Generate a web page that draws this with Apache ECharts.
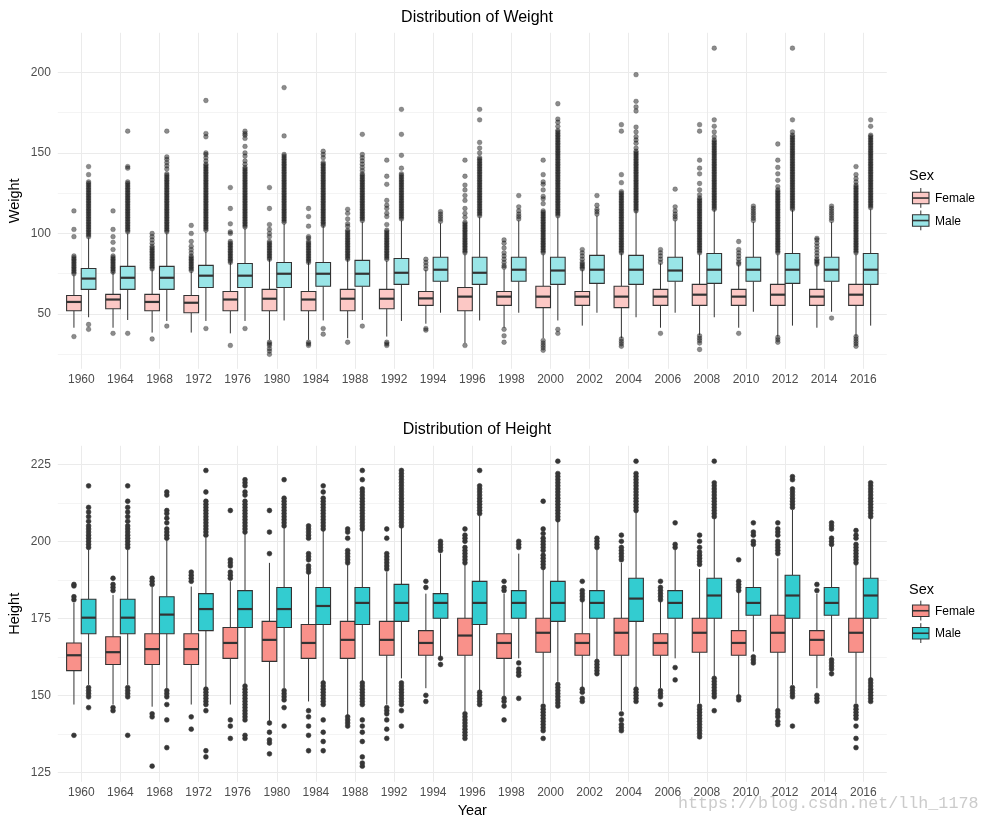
<!DOCTYPE html>
<html><head><meta charset="utf-8">
<script src="https://cdn.jsdelivr.net/npm/echarts@6/dist/echarts.min.js"></script>
<style>html,body{margin:0;padding:0;background:#fff}#c{width:990px;height:825px}</style>
</head><body><div id="c"></div>
<script>
const years = ['1960','1964','1968','1972','1976','1980','1984','1988','1992','1994','1996','1998','2000','2002','2004','2006','2008','2010','2012','2014','2016'];
const sexes = ['Female','Male'];
const weightTicks = [50,100,150,200];
const heightTicks = [125,150,175,200,225];

// [lower whisker, Q1, median, Q3, upper whisker]
const weightFemaleBox = [
 [41.5,52,57.5,61.5,74],[41.5,53.3,59,62.2,76],[38.5,52,57.5,62.2,77.3],[38.5,50.8,57,61.5,76.3],
 [38,52,59,64,82],[34,52,59.5,65.3,84],[34,52,59,64,82],[35,52,59.5,65.3,84],[36,53.3,59.5,65.3,83],
 [44,55.4,59.7,64,77.3],[32,52,60.8,66.5,87],[41.5,55.4,60.8,64,77.7],[35,54,60.8,67.2,87],
 [42.8,55.4,60.8,64,77.3],[35,54,60.8,67.2,87.6],[41.5,55.4,60.8,65.3,81.4],[37,55.4,62,68.4,87],
 [41.5,55.4,60.8,65.3,80.4],[36,55.4,62,68.4,87],[41.5,55.4,60.8,65.3,80.4],[36.3,55.4,62,68.4,87]
];
const weightMaleBox = [
 [48,65.3,72,78.3,97],[46.3,65.3,72.5,79.6,100],[45.7,65.3,72.5,79.6,100],[45.7,66.5,73.8,80.2,101],
 [45.7,66.5,73.8,81.4,103],[46,66.5,75,82,106],[46,67.2,75,82,104.6],[46.3,67.2,75,83.3,107],
 [45.7,68.4,75.6,84.5,108],[50.8,70.3,77.5,85.2,106.3],[46,68.4,75.6,85.2,110],[50.8,70.3,77.5,85.2,108],
 [46,68.4,77,85.2,110],[50.8,69,77.5,86.4,111],[48,68.4,77.5,86.4,113.5],[50.8,70.3,77,85.2,108],
 [48,69,77.5,87.6,114.5],[51.4,70.3,77.5,85.2,107],[42.8,69,77.5,87.6,114.5],[51.4,70.3,77.5,85.2,107],
 [42.8,68.4,77.5,87.6,115]
];
const heightFemaleBox = [
 [147,158,163,167,180],[147,160,164,169,182.6],[146.3,160,165,170,185.3],[147,160,165,170,185.3],
 [147,162,167,172,187],[141,161,168,174,193],[148,162,167,173,189.6],[143.6,162,168,174,193.4],
 [147,163,168,174,190],[152.3,163,167,171,183],[144.7,163,169.4,175,193],[149.6,162,167,170,183],
 [147.4,164,170.3,175,191],[152.3,163,167,170,181],[145,163,170.3,175,193],[152.3,163,167,170,180.4],
 [147.4,164,170.3,175,191],[150,163,167,171,183.6],[145.8,164,170.3,176,194.5],[152.3,163,168,171,183],
 [147.4,164,170.3,175,192.3]
];
const heightMaleBox = [
 [153.4,170,175.2,181.2,197.4],[153.4,170,175.2,181.2,197.4],[151.7,170,176.2,182,200.4],[152.3,171,178,183,201.2],
 [153.4,172,178,184,202.8],[152.3,172,178,185,204.8],[154.4,173,179,185,203.7],[154.4,173,180,185,203.7],
 [155.5,174,180,186,204.8],[162,175,180,183,196],[151.5,173,180,187,208.2],[162,175,180,184,196],
 [154.4,174,180,187,206.4],[161.5,175,180,184,197.7],[152.3,174,181.4,188,209.6],[162,175,180,184,197.7],
 [156,175,182.4,188,207.5],[164.2,176,180,185,198.3],[153.4,175,182.4,189,210.2],[162.6,176,180,185,198.3],
 [155.5,175,182.4,188,207.5]
];

const weightFemaleOut = [
 [36,75,76,77,78,79,80,81,82,83,84,85,86,98,102.5,114],
 [38,76,77,78,79,80,81,82,83,84,85,86,90,94.5,98,102.5,114],
 [34.5,78,79,80,81,82,83,84,85,86,87,88,89,90,91,92,94,96,98,100],
 [77,78,79,80,81,82,83,84,85,86,88,90,92,95,100,105],
 [30.5,82,83,84,85,86,87,88,89,90,91,92,93,94,95,100,101,106,115.5,128.5],
 [25,27,28.5,30.5,31.5,32.5,84,85,86,87,88,89,90,91,92,93,94,95,98,100,102.5,105.5,115.5,128.5],
 [30.5,31.5,32.5,82,83,84,85,86,87,88,89,90,91,92,93,94,95,97,98,104.5,110.5,115.5],
 [32.5,84,85,86,87,88,89,90,91,92,93,94,95,96,97,98,99,100,101,102,104.5,106,109,112.5,115],
 [30.5,31.5,32.5,84,85,86,87,88,89,90,91,92,93,94,95,96,97,98,99,100,101,102,105.5,110.5,112.5,115.5,117.5,120.5,130.5,135.5,145.5],
 [40,41,78,80,82,84],
 [30.5,88,89,90,91,92,93,94,95,96,97,98,99,100,101,102,103,104,105,106,107,110,112.5,115.5,120.5,123.5,127,130,135.5,145.5],
 [32.5,36.5,40.5,79,80,82,84,86,88,91,94,96],
 [27.5,29,30.5,32,33.5,88,89,90,91,92,93,94,95,96,97,98,99,100,101,102,103,104,105,106,107,108,109,110,111,112,113,114,118.5,121.5,123,127,130.5,132,136.5,145.5],
 [78,79,80,81,82,84,86,88,90],
 [30,31.5,33,34.5,88,89,90,91,92,93,94,95,96,97,98,99,100,101,102,103,104,105,106,107,108,109,110,111,112,113,114,115,116,117,118,119,120,121,122,123,124,125,126,131.5,136.5,163.5,167.5],
 [38,82,84,86,88,90],
 [28,32,33.5,35,36.5,88,89,90,91,92,93,94,95,96,97,98,99,100,101,102,103,104,105,106,107,108,109,110,111,112,113,114,115,116,117,118,119,120,121,122,124,127,131,137,140.5,145.5,163.5,167.5],
 [38,81,82,84,86,88,90,95],
 [32.5,34,35.5,88,89,90,91,92,93,94,95,96,97,98,99,100,101,102,103,104,105,106,107,108,109,110,111,112,113,114,115,116,117,118,119,120,121,122,123,124,125,126,127,129,133,137,141,145.5,155.5],
 [81,82,83,84,86,88,90,92,94,96,97],
 [30,31.5,33,34.5,36,88,89,90,91,92,93,94,95,96,97,98,99,100,101,102,103,104,105,106,107,108,109,110,111,112,113,114,115,116,117,118,119,120,121,122,123,124,125,126,127,128,129,130,132,134,136.5,141.5]
];
const weightMaleOut = [
 [40.5,43.5,98,99,100,101,102,103,104,105,106,107,108,109,110,111,112,113,114,115,116,117,118,119,120,121,122,123,124,125,126,127,128,129,130,131,132,136.5,141.5],
 [38,101,102,103,104,105,106,107,108,109,110,111,112,113,114,115,116,117,118,119,120,121,122,123,124,125,126,127,128,129,130,131,132,140.5,141.5,163.5],
 [42.5,101,102,103,104,105,106,107,108,109,110,111,112,113,114,115,116,117,118,119,120,121,122,123,124,125,126,127,128,129,130,131,132,133,134,135,136,137,140,142,144,146,147.5,163.5],
 [41,102,103,104,105,106,107,108,109,110,111,112,113,114,115,116,117,118,119,120,121,122,123,124,125,126,127,128,129,130,131,132,133,134,135,136,137,138,139,140,141,142,143,145,147,149,150,160,162,182.5],
 [41,104,105,106,107,108,109,110,111,112,113,114,115,116,117,118,119,120,121,122,123,124,125,126,127,128,129,130,131,132,133,134,135,136,137,138,139,140,141,143,145,148,150,154,159,161,162,163.5],
 [107,108,109,110,111,112,113,114,115,116,117,118,119,120,121,122,123,124,125,126,127,128,129,130,131,132,133,134,135,136,137,138,139,140,141,142,143,144,145,146,147,148,149,160.5,190.5],
 [37.5,41,105,106,107,108,109,110,111,112,113,114,115,116,117,118,119,120,121,122,123,124,125,126,127,128,129,130,131,132,133,134,135,136,137,138,139,140,141,142,143,144,147,149,151],
 [42.5,108,109,110,111,112,113,114,115,116,117,118,119,120,121,122,123,124,125,126,127,128,129,130,131,132,133,134,135,136,137,139,141,143,145,147,149,161.5],
 [109,110,111,112,113,114,115,116,117,118,119,120,121,122,123,124,125,126,127,128,129,130,131,132,133,134,135,136,137,140.5,148.5,161.5,177],
 [107.5,109,110.5,112,113.5],
 [111,112,113,114,115,116,117,118,119,120,121,122,123,124,125,126,127,128,129,130,131,132,133,134,135,136,137,138,139,140,141,142,143,144,145,146,147,150,153,156.5,170.5,177],
 [109,110.5,112,114,116.5,123.5],
 [38,40.5,111,112,113,114,115,116,117,118,119,120,121,122,123,124,125,126,127,128,129,130,131,132,133,134,135,136,137,138,139,140,141,142,143,144,145,146,147,148,149,150,151,152,153,154,155,156,157,158,159,160,161,162,163,164,166.5,169,171,180.5],
 [112,113.5,115,117.5,123.5],
 [114,115,116,117,118,119,120,121,122,123,124,125,126,127,128,129,130,131,132,133,134,135,136,137,138,139,140,141,142,143,144,145,146,147,148,149,150,151,153,156,158,160,163,166,176,178.5,182,198.5],
 [109,110.5,112,114,116.5,127.5],
 [115,116,117,118,119,120,121,122,123,124,125,126,127,128,129,130,131,132,133,134,135,136,137,138,139,140,141,142,143,144,145,146,147,148,149,150,151,152,153,154,155,156,157,158,160,163,166.5,170.5,215],
 [108,109.5,111,112.5,114,115.5,117],
 [115,116,117,118,119,120,121,122,123,124,125,126,127,128,129,130,131,132,133,134,135,136,137,138,139,140,141,142,143,144,145,146,147,148,149,150,151,152,153,154,155,156,157,158,159,160,161,163,170.5,215],
 [47.5,108,109.5,111,112.5,114,115.5,117],
 [116,117,118,119,120,121,122,123,124,125,126,127,128,129,130,131,132,133,134,135,136,137,138,139,140,141,142,143,144,145,146,147,148,149,150,151,152,153,154,155,156,157,158,159,160,161,166.5,170.5]
];
const heightFemaleOut = [
 [137,181,182,185.5,186],
 [145,146,184,185,186,188],
 [127,143,144,186,187,188],
 [139,143,187,188,189,190],
 [136,140,142,188,189,190,192,193,194,210],
 [131,134.5,135.5,138,141,196,203,210],
 [132,137,140,143,145,190,191,192,194,195,196,201,202,203,204,205],
 [140,141,142,143,193,194,195,196,197,201,203,204],
 [136,139,142,144,145,146,191,192,193,194,195,196,201,204],
 [148,150,185,187],
 [136,137,138,139,140,141,142,143,144,193,194,195,196,197,198,200,201,202,204],
 [142,146.5,148,149,184,185,187],
 [136,138.5,139.5,140.5,141.5,142.5,143.5,144.5,145.5,146.5,191.5,192.5,193.5,194.5,195.5,197,198,199,200,201,202.5,204,213],
 [148,149,151,152,181,182,183,184,187],
 [138.5,139.5,140.5,142,144,194,195,196,197,198,200,202],
 [147,149.5,150.5,151.5,181,182,183,184,185,187],
 [136.5,137.5,138.5,139.5,140.5,141.5,142.5,143.5,144.5,145.5,146.5,192.5,193.5,194.5,195.5,196.5,198,200,202],
 [148.5,149.5,184,185,186,187,194],
 [140.5,141.5,143,144,145,196,197,198,199,200,202,203,204,206],
 [148,149,150,184,186],
 [133,136,140,142.5,143.5,144.5,145.5,146.5,193,194,195,196,197,198,199,201,202,203.5]
];
const heightMaleOut = [
 [146,149.5,150.5,151.5,152.5,198,199,200,201,202,203,204,205,206.5,208,209.5,211,218],
 [137,149.5,150.5,151.5,152.5,198,199,200,201,202,203,204,205,206.5,208,209.5,211,213,218],
 [133,142,147,149.5,150.5,151.5,201,202,203,204,206,207.5,209,210,215,216],
 [130,132,145,147,148,149,150,151,152,202,203,204,205,206,207,208,209,210,211,212,213,216,223],
 [136,137,142,143,144,145,146,147,148,149,150,151,152,153,203,204,205,206,207,208,209,210,211,212,213,215,216,218,219,220],
 [140,146,148.5,149.5,150.5,151.5,205,206,207,208,209,210,211,212,213,214,220],
 [132,135,138,142,147,148,149,150,151,152,153,154,204,205,206,207,208,209,210,211,212,213,214,216,218],
 [127,128,130,135,138,140,142,147,148,149,150,151,152,153,154,204,205,206,207,208,209,210,211,212,213,214,215,216,217,220,223],
 [140,145,147,148,149,150,151,152,153,154,205,206,207,208,209,210,211,212,213,214,215,216,217,218,219,220,221,222,223],
 [160,162,197,198,199,200],
 [147,148,149,150,151,209,210,211,212,213,214,215,216,217,218,223],
 [149,156.5,157.5,158.5,160.5,198,199,200],
 [146.5,147.5,148.5,149.5,150.5,151.5,152.5,153.5,207,208,209,210,211,212,213,214,215,216,217,218,219,220,221,222,226],
 [157,158,159,160,161,198,199,200,201],
 [148,149,150,151,152,210,211,212,213,214,215,216,217,218,219,220,221,222,226],
 [155,159,198,199,206],
 [145,149.5,150.5,151.5,152.5,153.5,154.5,155.5,208,209,210,211,212,213,214,215,216,217,218,219,226],
 [160.5,161.5,162.5,199,200,202,203,206],
 [140,149.5,150.5,151.5,152.5,211,212,213,214,215,216,217,220,221],
 [157,158.5,159.5,160.5,161.5,199,200,201,204,205,206],
 [148,149,150,151,152,153,154,155,208,209,210,211,212,213,214,215,216,217,218,219]
];

const FONT = "'Liberation Sans', Arial, sans-serif";
const DODGE = 0.1875, HALF = 0.1875;
const topColors = ['#FCC8C5', '#99E5E7'];
const botColors = ['#F9918A', '#33CCD0'];

function boxRender(off, fill) {
  return function (params, api) {
    const cx = api.value(0) + off;
    const pl = api.coord([cx, api.value(1)]);
    const p1 = api.coord([cx, api.value(2)]);
    const pm = api.coord([cx, api.value(3)]);
    const p3 = api.coord([cx, api.value(4)]);
    const ph = api.coord([cx, api.value(5)]);
    const x0 = api.coord([cx - HALF, api.value(3)])[0];
    const x1 = api.coord([cx + HALF, api.value(3)])[0];
    const ln = { stroke: '#333333', lineWidth: 1 };
    return { type: 'group', children: [
      { type: 'line', shape: { x1: pl[0], y1: pl[1], x2: p1[0], y2: p1[1] }, style: ln },
      { type: 'line', shape: { x1: p3[0], y1: p3[1], x2: ph[0], y2: ph[1] }, style: ln },
      { type: 'rect', shape: { x: x0, y: p3[1], width: x1 - x0, height: p1[1] - p3[1] }, style: { fill: fill, stroke: '#333333', lineWidth: 1.1 } },
      { type: 'line', shape: { x1: x0, y1: pm[1], x2: x1, y2: pm[1] }, style: { stroke: '#333333', lineWidth: 2.2 } }
    ]};
  };
}
function boxSeries(name, box, xi, yi, off, fill) {
  return { type: 'custom', name: name, xAxisIndex: xi, yAxisIndex: yi, clip: false, z: 3,
    data: box.map((b, i) => [i].concat(b)), encode: { x: 0, y: [1, 2, 3, 4, 5] },
    renderItem: boxRender(off, fill) };
}
function outSeries(name, outs, xi, yi, off, color, border) {
  const d = [];
  outs.forEach((arr, i) => arr.forEach(v => d.push([i + off, v])));
  return { type: 'scatter', name: name, xAxisIndex: xi, yAxisIndex: yi, data: d, symbolSize: 4.8, clip: false, z: 4,
    itemStyle: { color: color, opacity: 1, borderColor: border, borderWidth: 0.6 }, silent: true };
}

const minorTop = '#F4F4F4', major = '#EBEBEB';
const option = {
  animation: false,
  backgroundColor: '#ffffff',
  textStyle: { fontFamily: FONT },
  title: [
    { text: 'Distribution of Weight', left: 472, top: 5, textAlign: 'center', textStyle: { fontSize: 16, fontWeight: 'normal', color: '#000', fontFamily: FONT } },
    { text: 'Distribution of Height', left: 472, top: 417, textAlign: 'center', textStyle: { fontSize: 16, fontWeight: 'normal', color: '#000', fontFamily: FONT } }
  ],
  grid: [
    { left: 57.8, top: 32.02, width: 829, height: 322.3, outerBoundsMode: 'none' },
    { left: 81.3, top: 32.8, width: 782, height: 336, outerBoundsMode: 'none' },
    { left: 57.8, top: 464.3, width: 829, height: 308, outerBoundsMode: 'none' },
    { left: 81.3, top: 445.8, width: 782, height: 336, outerBoundsMode: 'none' }
  ],
  xAxis: [
    { gridIndex: 0, type: 'value', min: -0.6, max: 20.6, show: false },
    { gridIndex: 1, type: 'category', data: years, boundaryGap: false,
      axisLine: { show: false, onZero: false }, axisTick: { show: false },
      axisLabel: { interval: 0, color: '#4d4d4d', fontSize: 12, margin: 5, fontFamily: FONT },
      splitLine: { show: true, interval: 0, lineStyle: { color: major, width: 1 } } },
    { gridIndex: 2, type: 'value', min: -0.6, max: 20.6, show: false },
    { gridIndex: 3, type: 'category', data: years, boundaryGap: false,
      axisLine: { show: false, onZero: false }, axisTick: { show: false },
      axisLabel: { interval: 0, color: '#4d4d4d', fontSize: 12, margin: 5, fontFamily: FONT },
      splitLine: { show: true, interval: 0, lineStyle: { color: major, width: 1 } },
      name: 'Year', nameLocation: 'middle', nameGap: 22, nameTextStyle: { fontSize: 14.5, color: '#000', fontFamily: FONT } }
  ],
  yAxis: [
    { gridIndex: 0, type: 'value', min: 25, max: 225, interval: 25,
      axisLine: { show: false }, axisTick: { show: false },
      axisLabel: { color: '#4d4d4d', fontSize: 12, margin: 7, fontFamily: FONT,
        formatter: v => (weightTicks.indexOf(v) >= 0 ? String(v) : '') },
      splitLine: { show: true, lineStyle: { width: 1, color: [minorTop, major, minorTop, major, minorTop, major, minorTop, major, 'rgba(0,0,0,0)'] } } },
    { gridIndex: 1, type: 'value', min: 0, max: 1,
      axisLine: { show: false }, axisTick: { show: false }, axisLabel: { show: false }, splitLine: { show: false },
      name: 'Weight', nameLocation: 'middle', nameGap: 59, nameRotate: 90, nameTextStyle: { fontSize: 14.5, color: '#000', fontFamily: FONT } },
    { gridIndex: 2, type: 'value', min: 125, max: 225, interval: 12.5,
      axisLine: { show: false }, axisTick: { show: false },
      axisLabel: { color: '#4d4d4d', fontSize: 12, margin: 7, fontFamily: FONT,
        formatter: v => (heightTicks.indexOf(v) >= 0 ? String(v) : '') },
      splitLine: { show: true, lineStyle: { width: 1, color: [major, minorTop, major, minorTop, major, minorTop, major, minorTop, major] } } },
    { gridIndex: 3, type: 'value', min: 0, max: 1,
      axisLine: { show: false }, axisTick: { show: false }, axisLabel: { show: false }, splitLine: { show: false },
      name: 'Height', nameLocation: 'middle', nameGap: 59, nameRotate: 90, nameTextStyle: { fontSize: 14.5, color: '#000', fontFamily: FONT } }
  ],
  series: [
    outSeries('Female weight outliers', weightFemaleOut, 0, 0, -DODGE, 'rgba(25,25,25,0.5)', 'rgba(25,25,25,0.35)'),
    outSeries('Male weight outliers', weightMaleOut, 0, 0, DODGE, 'rgba(25,25,25,0.5)', 'rgba(25,25,25,0.35)'),
    boxSeries('Female', weightFemaleBox, 0, 0, -DODGE, topColors[0]),
    boxSeries('Male', weightMaleBox, 0, 0, DODGE, topColors[1]),
    outSeries('Female height outliers', heightFemaleOut, 2, 2, -DODGE, '#363636', '#363636'),
    outSeries('Male height outliers', heightMaleOut, 2, 2, DODGE, '#363636', '#363636'),
    boxSeries('Female', heightFemaleBox, 2, 2, -DODGE, botColors[0]),
    boxSeries('Male', heightMaleBox, 2, 2, DODGE, botColors[1])
  ],
  graphic: []
};

function legendBlock(titleTop, keyTops, colors) {
  const els = [{ type: 'text', left: 909, top: titleTop, style: { text: 'Sex', font: '14.5px ' + FONT, fill: '#000' } }];
  sexes.forEach((s, k) => {
    const t = keyTops[k];
    els.push({ type: 'line', shape: { x1: 920.8, y1: t - 4.3, x2: 920.8, y2: t + 15.5 }, style: { stroke: '#333333', lineWidth: 1 } });
    els.push({ type: 'rect', shape: { x: 912.5, y: t, width: 16.5, height: 11.5 }, style: { fill: colors[k], stroke: '#333333', lineWidth: 1.1 } });
    els.push({ type: 'line', shape: { x1: 912.5, y1: t + 5.75, x2: 929, y2: t + 5.75 }, style: { stroke: '#333333', lineWidth: 1.6 } });
    els.push({ type: 'text', x: 935, y: t + 6.5, style: { text: s, font: '12px ' + FONT, fill: '#000', textVerticalAlign: 'middle', verticalAlign: 'middle' } });
  });
  return els;
}
option.graphic = [].concat(
  legendBlock(168, [192.3, 214.8], topColors),
  legendBlock(582, [605, 627.5], botColors),
  [{ type: 'text', left: 678, top: 795, style: { text: 'https://blog.csdn.net/llh_1178', font: "16.7px 'Liberation Mono', 'DejaVu Sans Mono', monospace", fill: 'rgba(190,190,190,0.8)' } }]
);

const chart = echarts.init(document.getElementById('c'));
chart.setOption(option);
</script></body></html>
